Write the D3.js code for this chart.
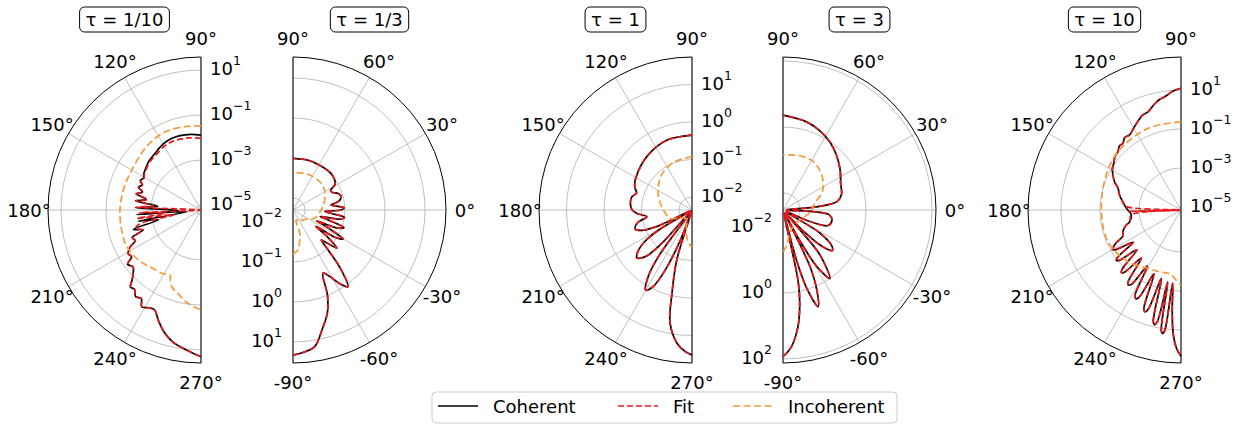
<!DOCTYPE html>
<html>
<head>
<meta charset="utf-8">
<script src="https://cdn.jsdelivr.net/npm/d3@7"></script>
<style>
  body { margin: 0; background: #fff; }
  text { font-family: "DejaVu Sans", sans-serif; fill: #000; }
</style>
</head>
<body>
<svg id="chart" width="1248" height="427"></svg>
<script>
// panel titles
const tauLabels = ["τ = 1/10", "τ = 1/3", "τ = 1", "τ = 3", "τ = 10"];

// radial ticks (powers of ten) per panel
const ticksTenth = [-5, -3, -1, 1];
const ticksThird = [-2, -1, 0, 1];
const ticksOne = [-2, -1, 0, 1];
const ticksThree = [-2, 0, 2];
const ticksTen = [-5, -3, -1, 1];

// angle tick labels
const leftAngles = [90, 120, 150, 180, 210, 240, 270];
const rightAngles = [90, 60, 30, 0, -30, -60, -90];

// series: [angle in degrees, log10 of intensity]
const coherentTenth = [[90,-1.89],[100,-1.82],[112,-1.78],[120,-1.84],[129,-1.98],[137,-2.05],[144,-2.16],[148,-2.22],[151,-2.3],[154,-2.22],[157,-2.38],[160,-2.26],[163,-2.5],[166,-2.25],[169,-2.75],[172,-2.28],[175,-3.3],[178,-2.3],[181,-4.2],[184,-2.35],[187,-4.6],[190,-2.4],[193,-3.3],[196,-2.1],[199,-2.5],[202,-1.92],[205,-2.0],[207.5,-1.67],[211,-1.45],[214,-1.5],[216.5,-1.16],[220,-1.28],[223,-1.1],[225.5,-0.85],[227.5,-0.58],[230,-0.62],[233,-0.4],[236,-0.48],[238.5,-0.18],[242,-0.3],[245,-0.33],[249,0.05],[253.7,0.49],[258,0.78],[264,1.03],[270,1.3]];
const fitTenth = [[90,-2.04],[100,-1.97],[112,-1.92],[120,-1.95],[129,-2.06],[137,-2.1],[144,-2.2],[148,-2.25],[151,-2.32],[154,-2.24],[157,-2.4],[160,-2.28],[163,-2.52],[166,-2.27],[169,-2.8],[172,-2.3],[175,-3.1],[177.5,-2.35],[180,-5.2],[182.5,-2.5],[185,-3.6],[187.5,-2.35],[190,-4.0],[193,-2.4],[196,-2.2],[199,-2.5],[202,-1.95],[205,-2.0],[207.5,-1.67],[211,-1.45],[214,-1.5],[216.5,-1.16],[220,-1.28],[223,-1.1],[225.5,-0.85],[227.5,-0.58],[230,-0.62],[233,-0.4],[236,-0.48],[238.5,-0.18],[242,-0.3],[245,-0.33],[249,0.05],[253.7,0.49],[258,0.78],[264,1.03],[270,1.3]];
const incoherentTenth = [[90,-1.49],[100,-1.45],[115,-1.4],[130,-1.5],[150,-1.67],[165,-1.66],[180,-1.62],[195,-1.58],[206,-1.54],[215,-1.62],[223,-1.73],[230,-1.85],[238,-1.91],[244.5,-2.02],[246.5,-1.8],[249,-1.58],[255,-1.35],[262,-1.04],[270,-0.78]];

const coherentThird = [[-90,1.33],[-86,1.27],[-81,1.16],[-76,0.75],[-71.6,0.42],[-68,0.0],[-64.6,-0.55],[-61,-0.4],[-58,-0.15],[-54.4,0.06],[-51,-0.4],[-48.5,-1.0],[-46.7,-1.27],[-44,-1.1],[-41,-0.85],[-38,-1.2],[-35.5,-1.6],[-33,-1.05],[-30,-0.85],[-27,-1.3],[-24.5,-1.65],[-22,-1.1],[-19,-0.95],[-16,-1.35],[-13.5,-1.6],[-11,-1.1],[-8,-1.0],[-5,-1.35],[-2.5,-1.5],[0,-1.1],[2.5,-1.02],[5,-1.2],[7.5,-1.34],[10.5,-1.15],[15,-1.05],[20,-1.1],[24,-1.22],[27.5,-1.24],[31,-1.08],[35,-1.02],[45,-0.98],[63.5,-1.0],[75,-1.0],[90,-1.01]];
const fitThird = coherentThird;
const incoherentThird = [[-90,-1.2],[-86,-1.25],[-82.9,-1.29],[-78,-1.5],[-74,-1.69],[-71.7,-2.04],[-55,-1.97],[-38,-1.92],[-21,-1.72],[-5,-1.63],[5,-1.56],[17.5,-1.47],[30,-1.38],[43,-1.33],[65,-1.33],[90,-1.36]];

const coherentOne = [[90,-0.35],[110,-0.37],[130,-0.48],[150,-0.62],[158,-0.7],[163,-0.8],[168,-0.7],[175,-0.7],[180,-0.75],[184,-0.9],[188.5,-1.13],[193,-0.86],[198.5,-0.75],[202,-0.9],[205,-1.3],[208,-2.3],[211,-1.3],[214,-0.8],[218,-0.5],[221,-0.4],[224,-0.52],[226,-0.7],[228,-1.2],[231,-2.3],[234,-0.9],[236.5,-0.25],[240,0.12],[243,-0.05],[246,-0.6],[249,-1.5],[251,-2.3],[253,-0.96],[256.5,-0.06],[259,0.72],[263.6,1.23],[267,1.42],[270,1.52]];
const fitOne = coherentOne;
const incoherentOne = [[90,-0.93],[110,-0.98],[130,-1.1],[150,-1.3],[170,-1.5],[190,-1.65],[200,-1.7],[214,-1.96],[225,-2.05],[240,-2.05],[250,-1.9],[258,-1.65],[264,-1.47],[270,-1.36]];

const coherentThree = [[-90,1.93],[-86.5,1.64],[-82.7,1.05],[-80,0.4],[-78,-0.3],[-76.5,-2.4],[-75,-1.0],[-73,0.0],[-70,0.6],[-67,0.1],[-64.5,-0.6],[-63,-2.4],[-61.5,-1.5],[-59,-0.5],[-55.6,0.0],[-52,-0.5],[-50,-0.9],[-48.5,-2.4],[-46,-1.6],[-43,-0.9],[-39.4,-0.58],[-36,-0.7],[-32,-1.2],[-28,-2.4],[-23,-1.6],[-19,-1.07],[-12,-1.0],[-6,-1.1],[-3,-1.6],[-1,-2.4],[2,-2.4],[5,-1.6],[7,-1.1],[9,-0.85],[15,-0.68],[24.8,-0.59],[35,-0.4],[46,-0.19],[55,-0.02],[64,0.12],[75,0.25],[90,0.36]];
const fitThree = coherentThree;
const incoherentThree = [[-90,-1.25],[-85,-1.4],[-75,-1.75],[-60,-1.92],[-40,-1.95],[-25,-1.9],[-10,-1.75],[0,-1.65],[12,-1.53],[25,-1.2],[37,-1.0],[50,-0.85],[60,-0.78],[75,-0.8],[90,-0.85]];

const coherentTen = [[90,1.09],[94,0.95],[98,0.72],[101,0.62],[104,0.45],[108.6,0.16],[112,0.1],[116,-0.1],[120,-0.3],[124.4,-0.49],[128,-0.45],[131,-0.62],[134,-0.6],[137.2,-0.75],[141,-0.8],[145,-0.95],[149,-1.05],[152.8,-1.23],[157,-1.45],[161,-1.74],[166,-1.9],[171,-2.1],[178,-2.35],[185.7,-2.59],[192.8,-2.46],[196,-2.2],[200.5,-1.97],[204,-1.9],[207,-1.4],[208.7,-1.2],[210,-1.1],[211.3,-1.25],[214,-2.2],[216.7,-1.1],[218,-0.95],[219.3,-1.1],[222,-2.1],[225.2,-0.87],[226.5,-0.72],[227.8,-0.87],[230.5,-1.95],[233.6,-0.6],[235,-0.45],[236.4,-0.6],[239,-1.8],[241.6,-0.2],[243,-0.05],[244.4,-0.2],[247,-1.6],[249.3,0.22],[250.5,0.38],[251.7,0.22],[254,-1.5],[256,0.72],[257,0.88],[258,0.72],[259.5,-1.4],[260.7,1.1],[261.5,1.25],[262.3,1.1],[263.5,-1.37],[265,0.0],[266.3,1.15],[268,1.9],[270,2.35]];
const fitTen = [[90,1.09],[94,0.95],[98,0.72],[101,0.62],[104,0.45],[108.6,0.16],[112,0.1],[116,-0.1],[120,-0.3],[124.4,-0.49],[128,-0.45],[131,-0.62],[134,-0.6],[137.2,-0.75],[141,-0.8],[145,-0.95],[149,-1.05],[152.8,-1.23],[157,-1.45],[161,-1.74],[166,-1.9],[171,-2.1],[176,-2.3],[179.5,-5.1],[181.5,-2.45],[183,-5.1],[185.7,-2.59],[192.8,-2.46],[196,-2.2],[200.5,-1.97],[204,-1.9],[207,-1.4],[208.7,-1.2],[210,-1.1],[211.3,-1.25],[214,-2.2],[216.7,-1.1],[218,-0.95],[219.3,-1.1],[222,-2.1],[225.2,-0.87],[226.5,-0.72],[227.8,-0.87],[230.5,-1.95],[233.6,-0.6],[235,-0.45],[236.4,-0.6],[239,-1.8],[241.6,-0.2],[243,-0.05],[244.4,-0.2],[247,-1.6],[249.3,0.22],[250.5,0.38],[251.7,0.22],[254,-1.5],[256,0.72],[257,0.88],[258,0.72],[259.5,-1.4],[260.7,1.1],[261.5,1.25],[262.3,1.1],[263.5,-1.37],[265,0.0],[266.3,1.15],[268,1.9],[270,2.35]];
const incoherentTen = [[90,-0.63],[112,-0.64],[137,-0.75],[155,-0.92],[180,-1.07],[203.5,-1.07],[224,-1.36],[240.5,-1.72],[252,-1.8],[258,-1.85],[262,-1.78],[266,-1.55],[270,-1.31]];

const legendNames = ["Coherent", "Fit", "Incoherent"];

const R = 153;
const cy = 210;
const colors = { coherent: "#000000", fit: "#e8191b", incoherent: "#f39a3a" };

const panels = [
  { cx: 201, side: "left",  logMin: -5.222, logMax: 1.578, ticks: ticksTenth, coh: coherentTenth, fit: fitTenth, inc: incoherentTenth },
  { cx: 293, side: "right", logMin: -2.3,   logMax: 1.525, ticks: ticksThird, coh: coherentThird, fit: fitThird, inc: incoherentThird },
  { cx: 692, side: "left",  logMin: -2.347, logMax: 1.733, ticks: ticksOne,   coh: coherentOne,   fit: fitOne,   inc: incoherentOne },
  { cx: 783, side: "right", logMin: -2.515, logMax: 2.121, ticks: ticksThree, coh: coherentThree, fit: fitThree, inc: incoherentThree },
  { cx: 1181, side: "left", logMin: -5.154, logMax: 2.692, ticks: ticksTen,   coh: coherentTen,   fit: fitTen,   inc: incoherentTen }
];

const svg = d3.select("#chart");
const rad = (deg) => deg * Math.PI / 180;

panels.forEach((p, i) => {
  const g = svg.append("g").attr("transform", `translate(${p.cx}, ${cy})`);
  const left = p.side === "left";
  const thMin = left ? 90 : -90;
  const thMax = left ? 270 : 90;

  const rScale = d3.scaleLog()
    .domain([Math.pow(10, p.logMin), Math.pow(10, p.logMax)])
    .range([0, R])
    .clamp(true);

  const halfArc = (r) => {
    const path = d3.path();
    path.arc(0, 0, r, -rad(thMin), -rad(thMax), true);
    return path.toString();
  };

  // grid circles
  g.selectAll(".rgrid")
    .data(p.ticks)
    .enter()
    .append("path")
    .attr("d", (t) => halfArc(rScale(Math.pow(10, t))))
    .attr("fill", "none")
    .attr("stroke", "#b0b0b0")
    .attr("stroke-width", 0.8);

  // angular grid
  const angles = left ? leftAngles : rightAngles;
  g.selectAll(".tgrid")
    .data(angles)
    .enter()
    .append("line")
    .attr("x1", 0).attr("y1", 0)
    .attr("x2", (a) => R * Math.cos(rad(a)))
    .attr("y2", (a) => -R * Math.sin(rad(a)))
    .attr("stroke", "#b0b0b0")
    .attr("stroke-width", 0.8);

  // frame
  g.append("path")
    .attr("d", halfArc(R))
    .attr("fill", "none")
    .attr("stroke", "#000")
    .attr("stroke-width", 1);
  g.append("line")
    .attr("x1", 0).attr("y1", -R).attr("x2", 0).attr("y2", R)
    .attr("stroke", "#000")
    .attr("stroke-width", 1);

  // curves
  const line = d3.lineRadial()
    .angle((d) => rad(90 - d[0]))
    .radius((d) => rScale(Math.pow(10, d[1])))
    .curve(d3.curveCatmullRom.alpha(0.5));

  g.append("path")
    .attr("d", line(p.coh))
    .attr("fill", "none")
    .attr("stroke", colors.coherent)
    .attr("stroke-width", 1.7);
  g.append("path")
    .attr("d", line(p.fit))
    .attr("fill", "none")
    .attr("stroke", colors.fit)
    .attr("stroke-width", 1.7)
    .attr("stroke-dasharray", "6,3");
  g.append("path")
    .attr("d", line(p.inc))
    .attr("fill", "none")
    .attr("stroke", colors.incoherent)
    .attr("stroke-width", 1.7)
    .attr("stroke-dasharray", "7,3.5");

  // angle labels
  g.selectAll(".tlabel")
    .data(angles)
    .enter()
    .append("text")
    .attr("x", (a) => (R + 19) * Math.cos(rad(a)))
    .attr("y", (a) => -(R + 19) * Math.sin(rad(a)))
    .attr("text-anchor", "middle")
    .attr("dominant-baseline", "central")
    .attr("font-size", 18)
    .text((a) => `${a}°`);

  // radial labels
  p.ticks.forEach((t) => {
    const r = rScale(Math.pow(10, t));
    const lab = g.append("text")
      .attr("x", left ? 9 : -11)
      .attr("y", (left ? -r : r) - 2)
      .attr("text-anchor", left ? "start" : "end")
      .attr("dominant-baseline", "central")
      .attr("font-size", 18);
    lab.append("tspan").text("10");
    lab.append("tspan")
      .attr("dy", -8)
      .attr("font-size", 12.5)
      .text(t < 0 ? "\u2212" + (-t) : String(t));
  });

  // title box
  const tx = left ? -R / 2 : R / 2;
  const title = g.append("text")
    .attr("x", tx)
    .attr("y", 19.5 - cy)
    .attr("text-anchor", "middle")
    .attr("dominant-baseline", "central")
    .attr("font-size", 18)
    .text(tauLabels[i]);
  const tw = title.node().getComputedTextLength();
  g.insert("rect", "text")
    .attr("x", tx - tw / 2 - 6)
    .attr("y", 7 - cy)
    .attr("width", tw + 12)
    .attr("height", 25)
    .attr("rx", 5)
    .attr("fill", "#fff")
    .attr("stroke", "#000")
    .attr("stroke-width", 1);
});

// legend
const legend = svg.append("g");
legend.append("rect")
  .attr("x", 432).attr("y", 392)
  .attr("width", 465).attr("height", 31)
  .attr("rx", 4)
  .attr("fill", "#fff")
  .attr("stroke", "#cccccc")
  .attr("stroke-width", 1);

const legendItems = [
  { x: 438, color: colors.coherent, dash: null },
  { x: 618, color: colors.fit, dash: "6,3" },
  { x: 733, color: colors.incoherent, dash: "7,3.5" }
];
legendItems.forEach((it, i) => {
  legend.append("line")
    .attr("x1", it.x).attr("x2", it.x + 40)
    .attr("y1", 406).attr("y2", 406)
    .attr("stroke", it.color)
    .attr("stroke-width", 1.7)
    .attr("stroke-dasharray", it.dash);
  legend.append("text")
    .attr("x", it.x + 55)
    .attr("y", 406)
    .attr("dominant-baseline", "central")
    .attr("font-size", 18)
    .text(legendNames[i]);
});
</script>
</body>
</html>
